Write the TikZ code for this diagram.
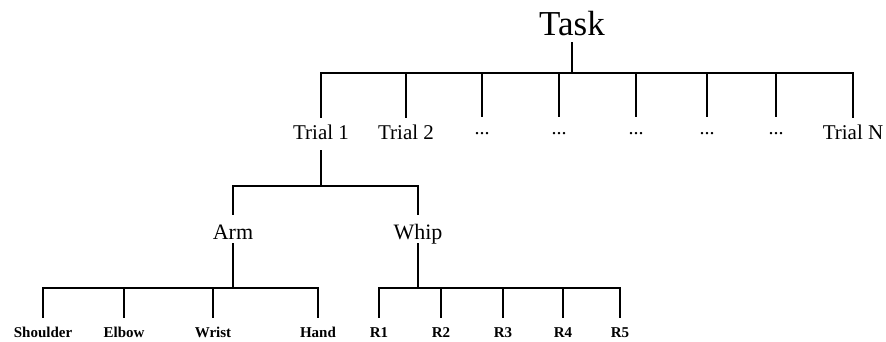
\documentclass[tikz,border=0pt]{standalone}
\usepackage{fontspec}
\setmainfont{Liberation Serif}
\begin{document}
\begin{tikzpicture}[x=1pt,y=-1pt,
  edge/.style={line width=1.4pt,black},
  tasknode/.style={anchor=base,inner xsep=2pt,inner ysep=4pt,text height=24pt,text depth=3pt,font=\fontsize{35}{40}\selectfont},
  trialnode/.style={anchor=base,inner xsep=2pt,inner ysep=4pt,text height=17pt,text depth=7pt,font=\fontsize{21}{25}\selectfont},
  dotnode/.style={anchor=base,inner xsep=2pt,inner ysep=4pt,text height=13pt,text depth=7pt,font=\fontsize{20}{24}\selectfont},
  partnode/.style={anchor=base,inner xsep=2pt,inner ysep=4pt,text height=20pt,text depth=0pt,font=\fontsize{22}{26}\selectfont},
  leafnode/.style={anchor=base,inner xsep=2pt,inner ysep=4pt,text height=15pt,text depth=0pt,font=\fontsize{15}{18}\selectfont\bfseries}]
\useasboundingbox (0,0) rectangle (886,341);
% level 0
\node[tasknode] (task) at (572,35) {Task};
\coordinate (bus0) at (572,73);
% level 1
\node[trialnode] (t1) at (321,139) {Trial 1};
\node[trialnode] (t2) at (406,139) {Trial 2};
\node[dotnode] (d1) at (482,134) {...};
\node[dotnode] (d2) at (559,134) {...};
\node[dotnode] (d3) at (636,134) {...};
\node[dotnode] (d4) at (707,134) {...};
\node[dotnode] (d5) at (776,134) {...};
\node[trialnode] (tn) at (853,139) {Trial N};
\coordinate (bus1) at (321,186);
% level 2
\node[partnode] (arm) at (233,239) {Arm};
\node[partnode] (whip) at (418,239) {Whip};
\coordinate (busa) at (233,288);
\coordinate (busw) at (418,288);
% level 3
\node[leafnode] (sh) at (43,337) {Shoulder};
\node[leafnode] (el) at (124,337) {Elbow};
\node[leafnode] (wr) at (213,337) {Wrist};
\node[leafnode] (ha) at (318,337) {Hand};
\node[leafnode] (r1) at (379,337) {R1};
\node[leafnode] (r2) at (441,337) {R2};
\node[leafnode] (r3) at (503,337) {R3};
\node[leafnode] (r4) at (563,337) {R4};
\node[leafnode] (r5) at (620,337) {R5};
% connectors
\draw[edge] (task.south) -- (bus0);
\foreach \n in {t1,t2,d1,d2,d3,d4,d5,tn} \draw[edge] (bus0) -| (\n.north);
\draw[edge] (t1.south) -- (bus1);
\foreach \n in {arm,whip} \draw[edge] (bus1) -| (\n.north);
\draw[edge] (arm.south) -- (busa);
\foreach \n in {sh,el,wr,ha} \draw[edge] (busa) -| (\n.north);
\draw[edge] (whip.south) -- (busw);
\foreach \n in {r1,r2,r3,r4,r5} \draw[edge] (busw) -| (\n.north);
\end{tikzpicture}
\end{document}
